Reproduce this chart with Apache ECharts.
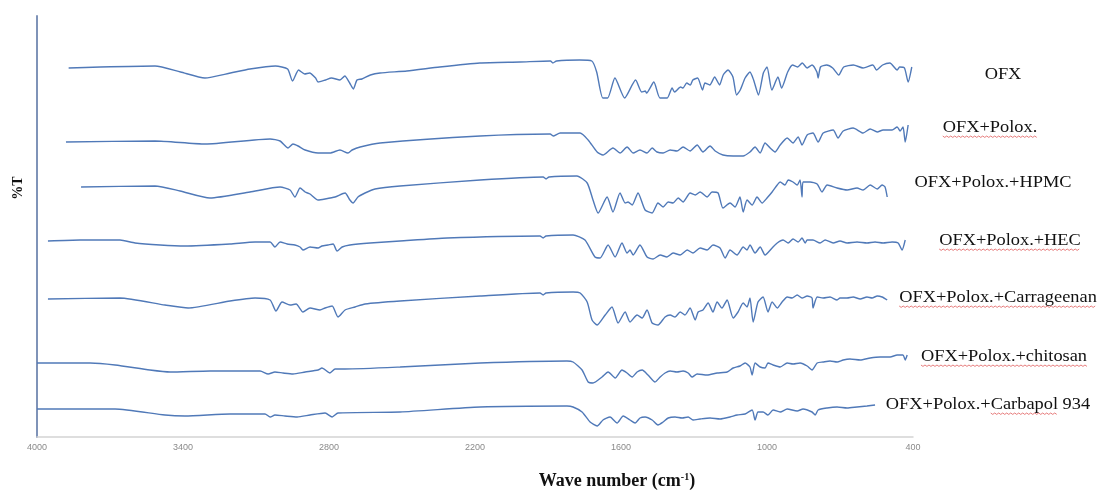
<!DOCTYPE html>
<html><head><meta charset="utf-8">
<script src="https://cdn.jsdelivr.net/npm/echarts@6/dist/echarts.min.js"></script>
<style>html,body{margin:0;padding:0;background:#fff}#c{width:1098px;height:490px}</style>
</head><body><div id="c"></div>
<script>
// ---- data ----
const xTicks = [4000, 3400, 2800, 2200, 1600, 1000, 400];
const sampleNames = ['OFX', 'OFX+Polox.', 'OFX+Polox.+HPMC', 'OFX+Polox.+HEC', 'OFX+Polox.+Carrageenan', 'OFX+Polox.+chitosan', 'OFX+Polox.+Carbapol 934'];

const ofxWn = [3870,3740,3515,3410,3310,3205,3125,3020,2970,2950,2925,2900,2880,2855,2845,2815,2790,2755,2735,2715,2700,2685,2665,2630,2590,2480,2345,2180,2015,1890,1880,1865,1770,1720,1700,1675,1655,1625,1585,1540,1515,1500,1495,1465,1440,1410,1390,1380,1355,1345,1330,1315,1305,1285,1265,1255,1235,1215,1195,1180,1160,1140,1125,1110,1090,1070,1055,1035,1015,1000,980,955,940,915,895,875,855,835,815,795,790,780,755,730,705,685,645,605,565,550,525,495,465,455,435,420,405];
const ofxT = [369,370,371,365,359,364,368,371,368,356,367,363,364,359,355,357,359,357,361,354,348,357,358,362,364,366,370,374,375,376,374,376,377,376,365,339,339,359,339,357,345,346,344,355,339,339,349,345,350,349,354,352,357,359,347,354,352,360,352,362,367,360,342,347,359,365,357,342,364,370,347,360,349,365,372,370,374,369,372,365,359,370,372,369,362,370,372,369,372,367,372,374,367,370,369,355,370];

const poloxWn = [3881,3515,3309,3042,3001,2968,2948,2927,2898,2845,2796,2755,2722,2705,2672,2590,2179,1891,1879,1850,1768,1735,1698,1674,1633,1604,1575,1550,1522,1493,1472,1452,1427,1398,1370,1345,1316,1287,1263,1234,1213,1181,1139,1098,1070,1049,1028,1008,987,967,946,917,893,872,856,835,811,790,769,728,708,687,646,605,576,547,523,486,465,453,441,432,420];
const poloxT = [295,296,293,298,296,289,293,291,287,284,284,287,284,287,290,294,301,303,301,304,304,297,285,282,289,284,290,284,287,284,289,285,284,287,286,290,286,292,285,291,286,282,281,281,285,290,284,294,289,285,292,299,294,300,292,302,304,295,304,307,299,306,309,304,308,305,307,307,310,306,310,295,312];

const hpmcWn = [3819,3515,3412,3289,3125,3001,2960,2940,2919,2898,2878,2845,2816,2775,2734,2714,2701,2681,2652,2611,2508,2179,1920,1908,1896,1781,1739,1715,1694,1657,1633,1604,1583,1571,1554,1530,1501,1472,1448,1427,1406,1386,1365,1345,1316,1295,1275,1246,1226,1201,1181,1152,1131,1111,1098,1082,1061,1041,1020,1000,979,958,946,926,913,893,876,864,856,852,823,794,774,753,712,671,630,605,576,547,527,515,506];
const hpmcT = [250,251,246,239,245,250,247,240,249,245,243,237,238,240,244,237,234,240,244,248,251,257,260,258,260,261,254,237,224,240,225,244,234,235,232,244,227,224,234,230,235,234,239,235,244,242,245,240,245,244,229,234,230,240,225,237,232,240,234,239,245,252,255,252,257,255,252,257,240,255,255,253,245,252,249,247,249,247,252,248,252,250,240];

const hecWn = [3955,3823,3659,3597,3494,3392,3207,3104,3042,3022,3001,2972,2940,2919,2907,2878,2845,2829,2804,2783,2767,2746,2714,2631,2508,2315,1933,1920,1908,1797,1748,1707,1686,1653,1624,1596,1575,1563,1550,1522,1493,1468,1439,1411,1386,1357,1328,1304,1275,1246,1222,1193,1172,1152,1123,1098,1082,1070,1049,1028,1008,979,958,934,913,893,872,856,843,835,811,782,761,728,700,671,630,589,556,523,486,461,445,432];
const hecT = [196,197,197,194,192,191,193,195,195,190,195,193,192,190,187,190,189,191,192,193,186,190,192,194,196,199,201,199,201,202,197,180,179,192,180,194,184,187,182,192,180,178,182,180,184,182,187,184,189,187,192,189,179,187,182,190,187,192,184,190,182,189,194,197,194,198,195,199,194,197,197,194,197,194,196,194,195,194,195,194,195,194,187,197];

const carraWn = [3955,3659,3474,3379,3207,3104,3042,3018,2993,2960,2935,2907,2878,2837,2816,2787,2763,2734,2693,2652,2508,2179,1933,1920,1908,1797,1768,1739,1719,1698,1665,1637,1612,1583,1563,1534,1513,1493,1472,1448,1419,1398,1378,1357,1337,1316,1295,1283,1263,1242,1222,1205,1185,1164,1139,1119,1098,1082,1070,1057,1037,1016,996,979,958,938,917,897,876,856,835,815,811,794,769,741,712,700,671,646,617,589,568,547,527,506];
const carraT = [138,139,132,129,136,139,137,126,135,132,133,125,129,127,129,131,120,127,130,133,136,141,144,142,144,145,144,135,117,112,122,130,114,125,115,122,119,127,114,112,120,122,120,125,122,129,117,125,127,134,125,135,129,137,119,125,134,130,139,115,135,140,125,135,129,135,140,139,142,139,141,139,129,140,139,140,137,139,139,140,138,140,139,141,140,137];

const chitoWn = [4000,3782,3679,3536,3453,3289,3083,3050,3022,2989,2948,2898,2845,2829,2796,2775,2734,2508,2179,1822,1797,1760,1735,1715,1678,1653,1624,1596,1575,1554,1534,1513,1489,1460,1439,1419,1398,1370,1345,1324,1308,1287,1246,1205,1164,1139,1111,1090,1070,1061,1049,1028,1008,996,975,946,917,893,864,835,815,794,769,741,712,687,659,617,576,535,494,465,441,432,424];
const chitoT = [74,74,72,67,65,66,66,63,65,64,63,65,67,69,64,68,68,70,74,76,75,67,55,54,60,65,59,67,64,60,65,67,62,55,60,64,66,65,66,64,60,63,62,64,65,69,71,74,70,62,74,70,69,74,72,70,74,73,74,71,67,74,75,76,75,77,78,77,79,80,80,82,82,77,82];

const carbWn = [4000,3679,3474,3392,3207,3063,3042,3022,2981,2931,2878,2816,2787,2763,2508,2179,1822,1797,1760,1727,1698,1674,1645,1616,1591,1563,1542,1522,1501,1472,1448,1427,1406,1378,1349,1324,1304,1275,1234,1193,1152,1123,1090,1061,1049,1037,1016,996,975,946,917,876,852,815,802,790,753,712,671,630,589,556];
const carbT = [28,28,22,21,23,23,20,22,21,20,22,24,20,24,25,30,31,30,25,15,11,17,20,14,21,17,14,19,20,17,12,15,19,20,19,20,17,18,19,18,20,22,23,27,17,25,25,22,27,25,28,26,28,25,22,27,29,30,29,30,31,32];

// ---- chart ----
const spectra = [[ofxWn, ofxT], [poloxWn, poloxT], [hpmcWn, hpmcT], [hecWn, hecT], [carraWn, carraT], [chitoWn, chitoT], [carbWn, carbT]];
const lineColor = '#5079b8';
const series = spectra.map((s, i) => ({
  name: sampleNames[i], type: 'line', silent: true, showSymbol: false, smooth: 0.2,
  data: s[0].map((w, j) => [w, s[1][j]]),
  lineStyle: { color: lineColor, width: 1.4 }
}));

// label layout (centre x, centre y, underline mode)
const labelPos = [[1003, 75, 0], [990, 128, 1], [993, 183, 0], [1010, 241, 1], [998, 298, 1], [1004, 357, 1], [988, 405, 2]];
const labelFont = '17px "Liberation Serif"';
const sx = 1.08;
const ctx = document.createElement('canvas').getContext('2d');
ctx.font = labelFont;
function zigzag(x1, x2, y) {
  const pts = []; let k = 0;
  for (let x = x1; x <= x2; x += 2, k++) pts.push([x, y + (k % 2 ? 1.4 : 0)]);
  return pts;
}
const graphics = [];
sampleNames.forEach((name, i) => {
  const [cx, cy, mode] = labelPos[i];
  graphics.push({ type: 'text', x: cx, y: cy, scaleX: sx, silent: true,
    style: { text: name, font: labelFont, fill: '#111', align: 'center', verticalAlign: 'middle' } });
  if (mode) {
    const w = ctx.measureText(name).width * sx;
    let x1 = cx - w / 2, x2 = cx + w / 2;
    if (mode === 2) {
      x1 = cx - w / 2 + ctx.measureText('OFX+Polox.+').width * sx;
      x2 = x1 + ctx.measureText('Carbapol').width * sx;
    }
    graphics.push({ type: 'polyline', silent: true, shape: { points: zigzag(x1, x2, cy + 8) },
      style: { stroke: '#e05a5a', lineWidth: 0.8, fill: null } });
  }
});
graphics.push({ type: 'text', x: 18, y: 188, rotation: Math.PI / 2, silent: true,
  style: { text: '%T', font: 'bold 14px "Liberation Serif"', fill: '#111', align: 'center', verticalAlign: 'middle' } });
graphics.push({ type: 'text', x: 617, y: 481, silent: true,
  style: { text: '{a|Wave number (cm}{s|-1}{a|)}', align: 'center', verticalAlign: 'middle',
    rich: { a: { font: 'bold 18px "Liberation Serif"', fill: '#111' },
            s: { font: 'bold 10px "Liberation Serif"', fill: '#111', verticalAlign: 'top', padding: [0, 0, 8, 0] } } } });

const chart = echarts.init(document.getElementById('c'), null, { renderer: 'canvas' });
chart.setOption({
  animation: false,
  backgroundColor: '#fff',
  grid: { left: 37, right: 185, top: 16, bottom: 53, containLabel: false },
  xAxis: {
    type: 'value', inverse: true, min: 400, max: 4000, interval: 600,
    axisLine: { show: true, onZero: false, lineStyle: { color: '#d4d4d4', width: 1.5 } },
    axisTick: { show: false }, splitLine: { show: false },
    axisLabel: { margin: 6, color: '#8a8a8a', fontSize: 9, fontFamily: 'Liberation Sans',
      customValues: xTicks, formatter: v => String(v) }
  },
  yAxis: {
    type: 'value', min: 0, max: 421,
    axisLine: { show: true, lineStyle: { color: '#7f93b8', width: 2 } },
    axisTick: { show: false }, axisLabel: { show: false }, splitLine: { show: false }
  },
  series: series,
  graphic: graphics
});
</script></body></html>
